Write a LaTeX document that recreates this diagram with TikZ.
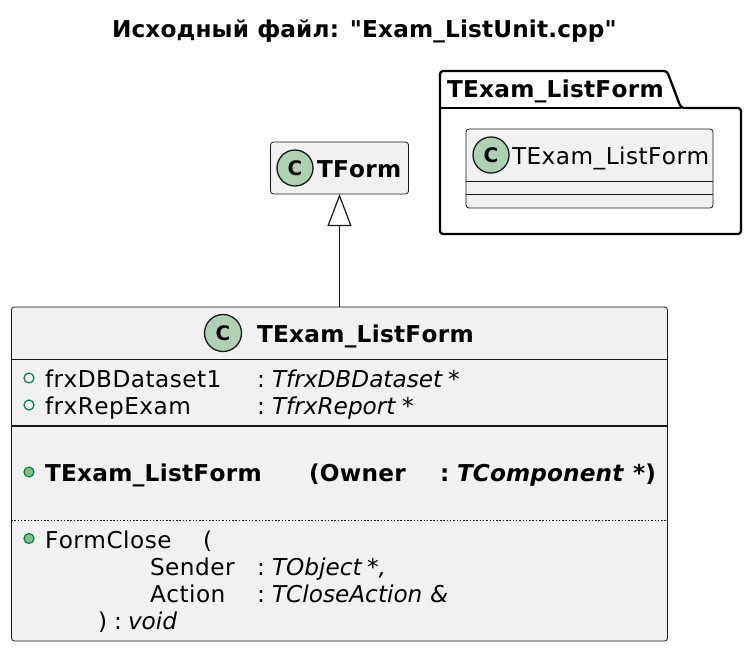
\documentclass[tikz,border=0pt]{standalone}
\usepackage{fontspec}
\newfontfamily\uifont[Kerning=Off,LetterSpace=2,BoldFeatures={LetterSpace=1.2},ItalicFeatures={LetterSpace=0},BoldItalicFeatures={LetterSpace=0.5}]{DejaVu Sans}
\newfontfamily\headfont[Kerning=Off,LetterSpace=0.6]{DejaVu Sans}
\newfontfamily\spotfont{DejaVu Sans}
\usetikzlibrary{arrows.meta}
\definecolor{boxfill}{HTML}{F1F1F1}
\definecolor{spotfill}{HTML}{ADD1B2}
\definecolor{ink}{HTML}{181818}
\definecolor{visline}{HTML}{038048}
\definecolor{visfill}{HTML}{84BE84}
\tikzset{
  x=1pt,y=-1pt,
  classbox/.style={draw=ink,fill=boxfill,line width=0.8pt,rounded corners=3pt,inner sep=0pt,outer sep=0pt},
  spot/.style={circle,draw=ink,fill=spotfill,line width=1.3pt,inner sep=0pt,minimum size=#1,font=\spotfont\fontsize{20}{20}\selectfont\bfseries},
  txt/.style={anchor=base west,inner sep=0pt,outer sep=0pt,text=black,font=\uifont\fontsize{23.2}{23}\selectfont},
  btxt/.style={txt,font=\uifont\fontsize{23.2}{23}\selectfont\bfseries},
  itxt/.style={txt,font=\uifont\fontsize{23.2}{23}\selectfont\itshape},
  bitxt/.style={txt,font=\uifont\fontsize{23.2}{23}\selectfont\bfseries\itshape},
  titletxt/.style={txt,font=\headfont\fontsize{23.2}{23}\selectfont\bfseries},
  field/.style={circle,draw=visline,fill=boxfill,line width=1.2pt,inner sep=0pt,minimum size=10pt},
  method/.style={circle,draw=visline,fill=visfill,line width=1.2pt,inner sep=0pt,minimum size=10pt},
  sep/.style={draw=ink,line width=0.9pt},
  pkg/.style={draw=black,line width=2.3pt,line join=round},
  inherit/.style={draw=ink,line width=1.2pt,{Triangle[open,length=32pt,width=24pt,fill=white]}-},
}
\begin{document}
\begin{tikzpicture}
\useasboundingbox (0,0) rectangle (750,651);
\node[titletxt] (title) at (112,37) {Исходный файл: "Exam\_ListUnit.cpp"};
% package
\draw[pkg,rounded corners=3pt] (440,108) -- (440,71) -- (667,71) -- (681,108) -- (741,108) -- (741,234) -- (440,234) -- cycle;
\draw[pkg] (440,108) -- (681,108);
\node[btxt] (pkgname) at (447,97) {TExam\_ListForm};
% inner class
\node[classbox,minimum width=247pt,minimum height=79pt] (inner) at (589.5,168.5) {};
\draw[sep] (466,181.5) -- (713,181.5);
\draw[sep] (466,194.5) -- (713,194.5);
\node[spot=36pt] (innerspot) at (491,155) {C};
\node[txt] (innername) at (512,164) {TExam\_ListForm};
% TForm
\node[classbox,minimum width=138pt,minimum height=52pt] (tform) at (339.5,168) {};
\node[spot=36pt] (tformspot) at (295,168) {C};
\node[btxt] (tformname) at (317,177) {TForm};
% main class
\node[classbox,minimum width=656pt,minimum height=334pt] (main) at (339.5,474) {};
\node[spot=37pt] (mainspot) at (223,333) {C};
\node[btxt] (mainname) at (257,342) {TExam\_ListForm};
\draw[sep] (11,359.5) -- (667,359.5);
\draw[sep,line width=1.4pt] (11,426) -- (667,426);
\draw[sep,line width=1pt,dash pattern=on 1.5pt off 1.8pt] (11,520.5) -- (667,520.5);
% fields
\node[field] (v1) at (29,378) {};
\node[txt] (f1) at (45,387) {frxDBDataset1};
\node[txt] (f1c) at (257,387) {:};
\node[itxt] (f1t) at (272,387) {TfrxDBDataset};
\node[itxt] (f1s) at (448,387) {*};
\node[field] (v2) at (29,405) {};
\node[txt] (f2) at (45,414.5) {frxRepExam};
\node[txt] (f2c) at (257,414.5) {:};
\node[itxt] (f2t) at (272,414.5) {TfrxReport};
\node[itxt] (f2s) at (402,414.5) {*};
% constructor
\node[method] (v3) at (29,472) {};
\node[btxt] (c1) at (45,481.5) {TExam\_ListForm};
\node[btxt] (c2) at (309,481.5) {(Owner};
\node[btxt] (c3) at (440,481.5) {:};
\node[bitxt] (c4) at (457,481.5) {TComponent};
\node[btxt] (c5) at (633,481.5) {*)};
% method
\node[method] (v4) at (29,538.5) {};
\node[txt] (m1) at (45,548) {FormClose};
\node[txt] (m2) at (203,548) {(};
\node[txt] (m3) at (150,575) {Sender};
\node[txt] (m3c) at (257,575) {:};
\node[itxt] (m3t) at (272,575) {TObject};
\node[itxt] (m3s) at (367,575) {*,};
\node[txt] (m4) at (150,602) {Action};
\node[txt] (m4c) at (257,602) {:};
\node[itxt] (m4t) at (272,602) {TCloseAction};
\node[itxt] (m4s) at (430,602) {\&};
\node[txt] (m5) at (98,629) {)};
\node[txt] (m5c) at (114,629) {:};
\node[itxt] (m5t) at (128,629) {void};
% inheritance
\draw[inherit] (tform) -- (main);
\end{tikzpicture}
\end{document}
